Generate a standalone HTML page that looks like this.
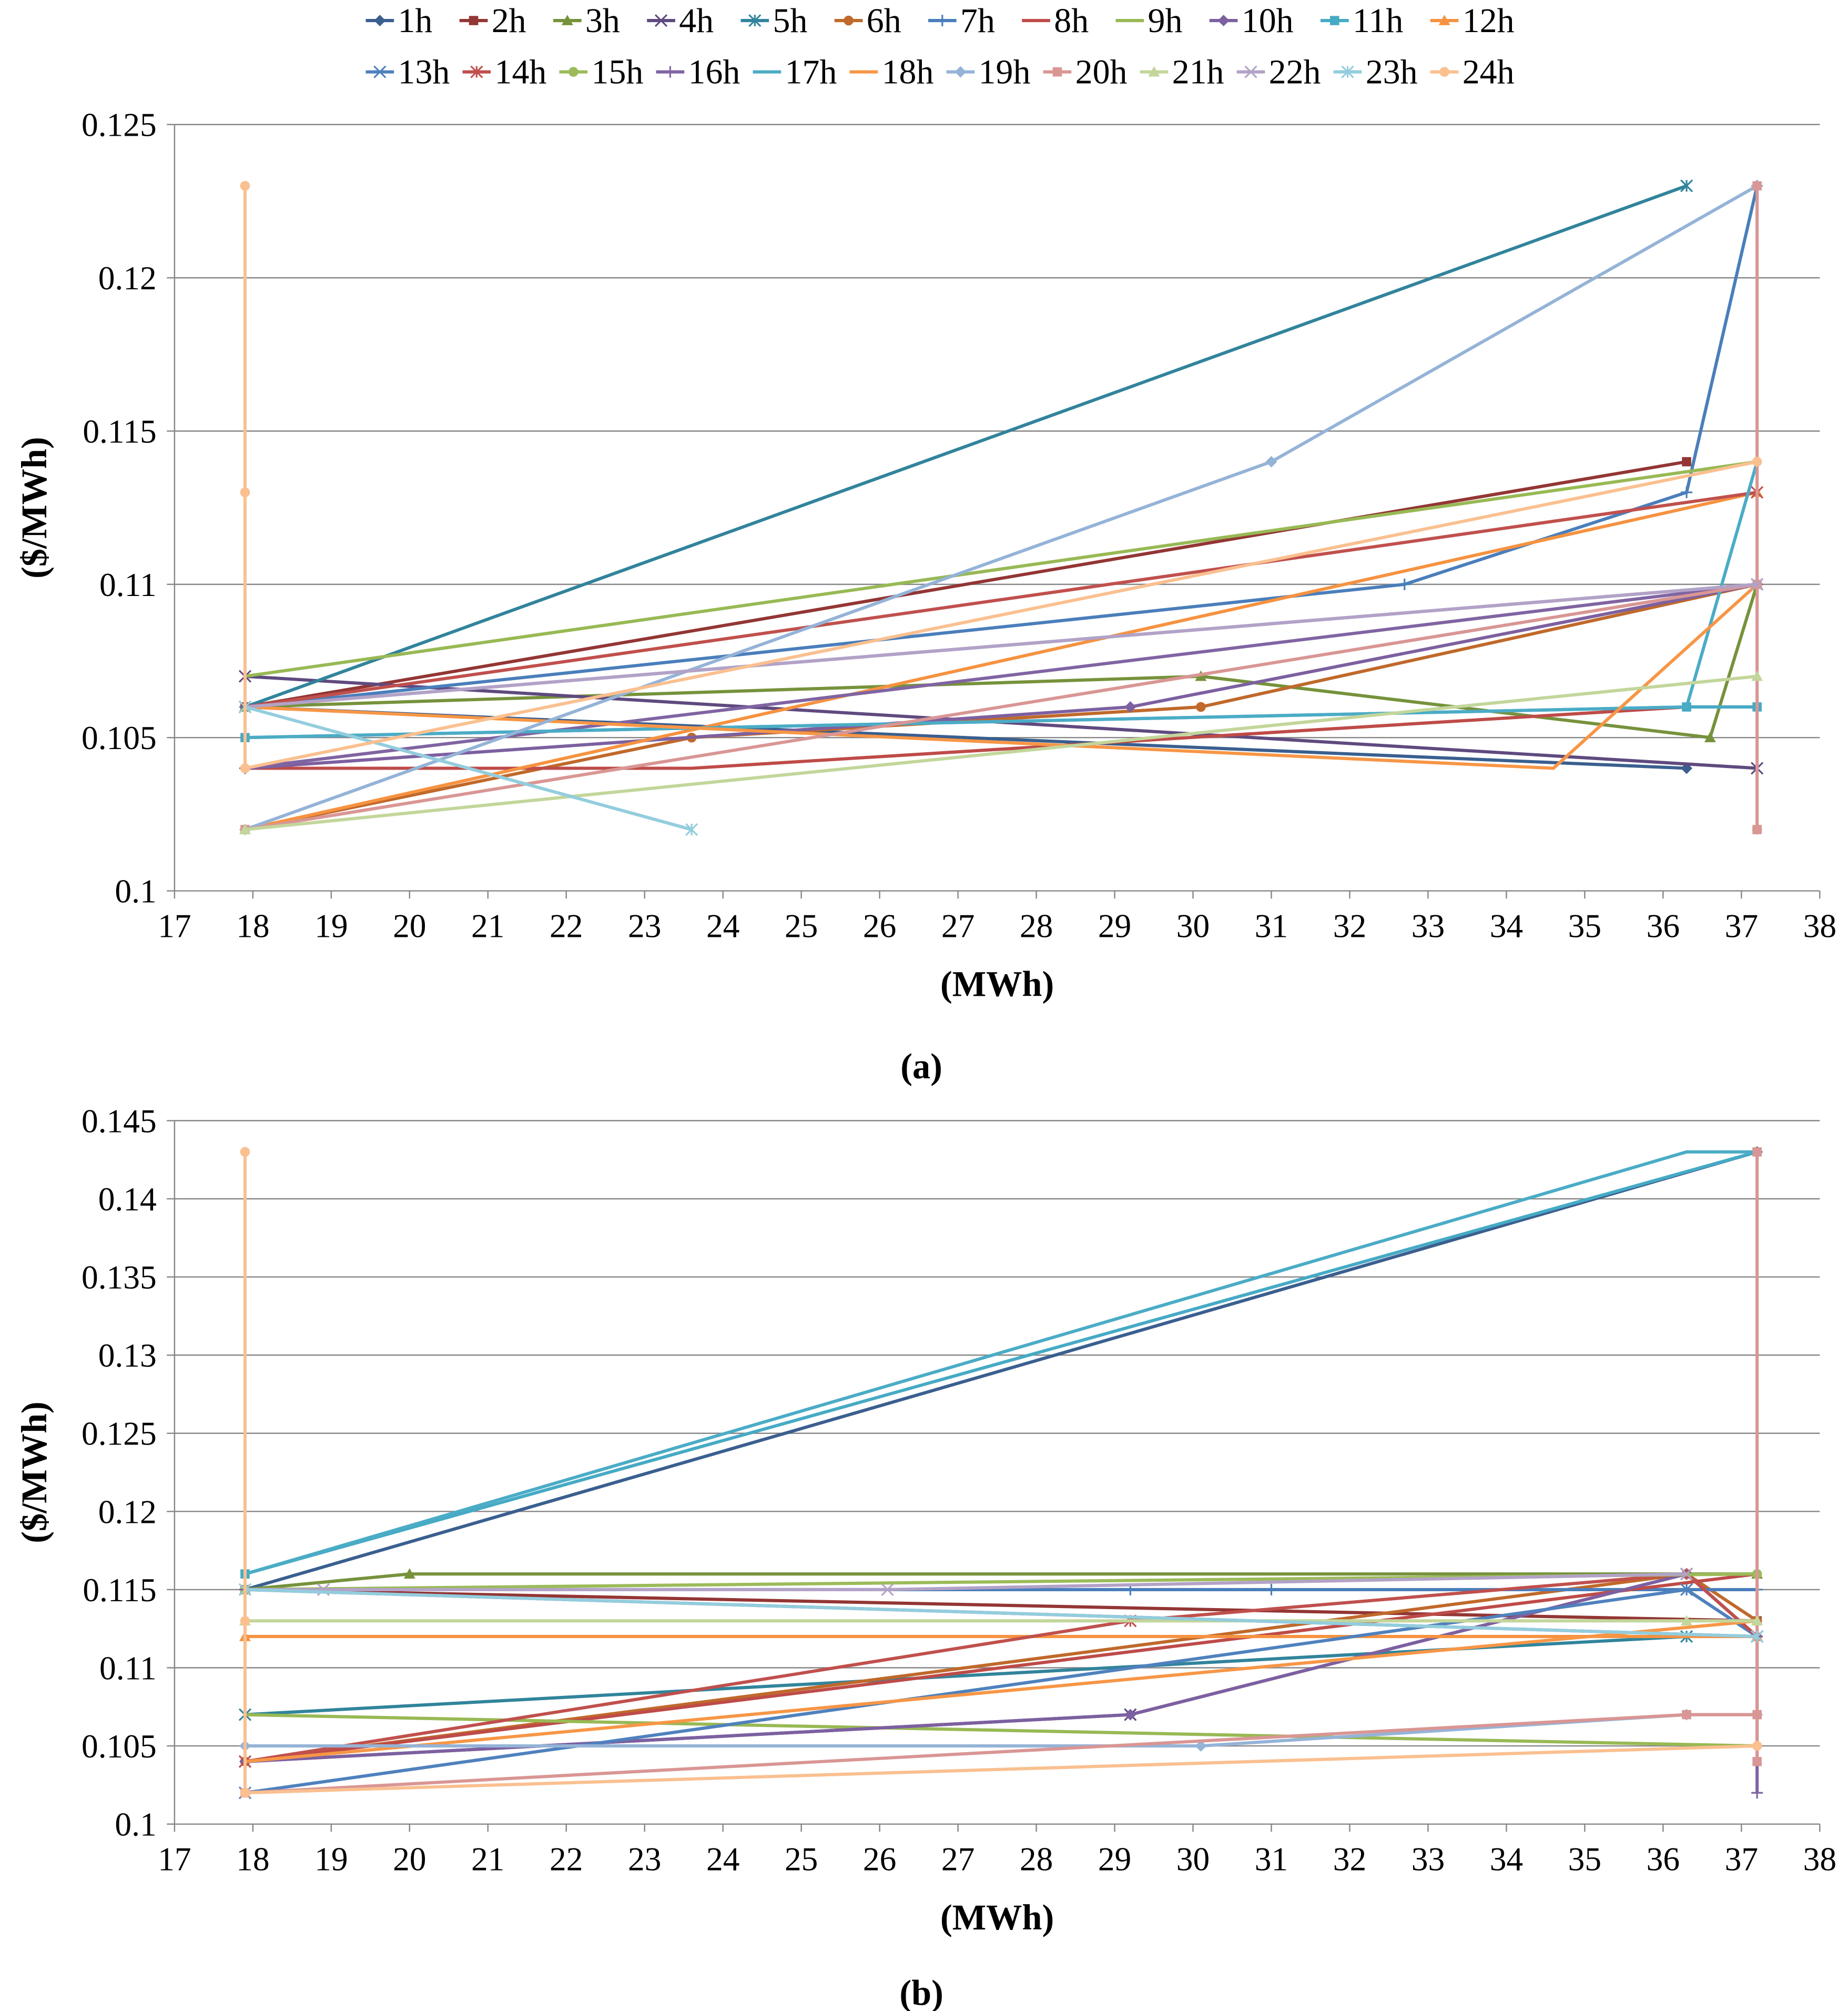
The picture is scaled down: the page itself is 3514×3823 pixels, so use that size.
<!DOCTYPE html>
<html><head><meta charset="utf-8"><style>
html,body{margin:0;padding:0;background:#fff;}
svg{display:block;}
svg text{font-family:"Liberation Serif","DejaVu Serif",serif !important;}
</style></head><body>
<svg id="chart" width="3514" height="3823" viewBox="0 0 1440 1566.6" xmlns="http://www.w3.org/2000/svg" font-family="Liberation Serif, serif" style="font-family:'Liberation Serif',serif">
<g id="legend"></g>
<g id="pa"></g>
<g id="pb"></g>
<text x="718" y="840" text-anchor="middle" font-size="28" font-weight="bold">(a)</text>
<text x="718" y="1562" text-anchor="middle" font-size="28" font-weight="bold">(b)</text>
</svg>
<script>
const seriesNames = ["1h","2h","3h","4h","5h","6h","7h","8h","9h","10h","11h","12h","13h","14h","15h","16h","17h","18h","19h","20h","21h","22h","23h","24h"];
const seriesColors = ["#3A5F8F","#933634","#76923C","#5F4A7F","#31849B","#C0692B","#4A7EBB","#BE4B48","#98B954","#7D60A0","#46AAC5","#F69240","#4F81BD","#C0504D","#9BBB59","#8064A2","#4BACC6","#F79646","#95B3D7","#D99694","#C3D69B","#B3A2C7","#93CDDD","#FAC090"];
const seriesMarkers = ["diamond","square","triangle","x","star","circle","plus","none","none","diamond","square","triangle","x","star","circle","plus","none","none","diamond","square","triangle","x","star","circle"];
const xTicks = [17,18,19,20,21,22,23,24,25,26,27,28,29,30,31,32,33,34,35,36,37,38];
const yTicksA = [0.1,0.105,0.11,0.115,0.12,0.125];
const yTicksB = [0.1,0.105,0.11,0.115,0.12,0.125,0.13,0.135,0.14,0.145];
const aX = [
[17.9,36.3],[17.9,36.3],[17.9,30.1,36.6,37.2],[17.9,37.2],[17.9,36.3],[17.9,23.6,30.1,37.2],
[17.9,32.7,36.3,37.2],[17.9,23.6,36.3,37.2],[17.9,37.2],[17.9,29.2,37.2],[17.9,36.3,37.2],[17.9,37.2],
[17.9,37.2],[17.9,37.2],[37.2],[17.9,37.2],[17.9,36.3,37.2],[17.9,34.6,37.2],
[17.9,31,37.2],[17.9,37.2,37.2,37.2],[17.9,37.2],[17.9,37.2],[17.9,23.6],[17.9,17.9,17.9,37.2]];
const aY = [
[0.106,0.104],[0.106,0.114],[0.106,0.107,0.105,0.110],[0.107,0.104],[0.106,0.123],[0.102,0.105,0.106,0.110],
[0.106,0.110,0.113,0.123],[0.104,0.104,0.106,0.106],[0.107,0.114],[0.104,0.106,0.110],[0.105,0.106,0.106],[0.102,0.113],
[0.106,0.110],[0.106,0.113],[0.102],[0.104,0.110],[0.105,0.106,0.114],[0.106,0.104,0.110],
[0.102,0.114,0.123],[0.102,0.110,0.102,0.123],[0.102,0.107],[0.106,0.110],[0.106,0.102],[0.123,0.113,0.104,0.114]];
const bX = [
[17.9,37.2],[17.9,37.2],[17.9,20,37.2],[17.9,29.2,36.3,37.2],[17.9,36.3,37.2],[17.9,36.3,37.2],
[17.9,29.2,31,36.3,37.2],[17.9,37.2],[17.9,37.2],[17.9,29.2,36.3,37.2],[17.9,37.2],[17.9,37.2],
[17.9,36.3,37.2],[17.9,29.2,36.3,37.2],[17.9,37.2],[17.9,37.2,37.2],[17.9,36.3,37.2],[17.9,37.2],
[17.9,30.1,36.3,37.2],[17.9,36.3,37.2,37.2,37.2],[17.9,36.3,37.2],[17.9,18.9,26.1,36.3],[17.9,37.2],[17.9,17.9,17.9,37.2]];
const bY = [
[0.115,0.143],[0.115,0.113],[0.115,0.116,0.116],[0.104,0.107,0.116,0.112],[0.107,0.112],[0.104,0.116,0.113],
[0.115,0.115,0.115,0.115,0.115],[0.104,0.116],[0.107,0.105],[0.104,0.107,0.116,0.112],[0.116,0.143],[0.112,0.112],
[0.102,0.115,0.112],[0.104,0.113,0.116,0.112],[0.115,0.116],[0.115,0.112,0.102],[0.116,0.143,0.143],[0.104,0.113],
[0.105,0.105,0.107,0.107],[0.102,0.107,0.107,0.104,0.143],[0.113,0.113,0.113],[0.115,0.115,0.115,0.116],[0.115,0.112],[0.143,0.113,0.102,0.105]];

const NS="http://www.w3.org/2000/svg";
const FF="Liberation Serif, serif";
function mk(parent,tag,attrs){const e=document.createElementNS(NS,tag);for(const k in attrs)e.setAttribute(k,attrs[k]);parent.appendChild(e);return e;}
function marker(g,type,cx,cy,col,s){
  let e;
  if(type==="diamond"){e=mk(g,"polygon",{points:`${cx},${cy-s} ${cx+s},${cy} ${cx},${cy+s} ${cx-s},${cy}`,fill:col});}
  else if(type==="square"){e=mk(g,"rect",{x:cx-s*0.8,y:cy-s*0.8,width:s*1.6,height:s*1.6,fill:col});}
  else if(type==="triangle"){e=mk(g,"polygon",{points:`${cx},${cy-s} ${cx+s},${cy+s*0.8} ${cx-s},${cy+s*0.8}`,fill:col});}
  else if(type==="circle"){e=mk(g,"circle",{cx:cx,cy:cy,r:s*0.85,fill:col});}
  else if(type==="x"){e=mk(g,"path",{d:`M${cx-s} ${cy-s}L${cx+s} ${cy+s}M${cx+s} ${cy-s}L${cx-s} ${cy+s}`,stroke:col,"stroke-width":1.3,fill:"none"});}
  else if(type==="star"){e=mk(g,"path",{d:`M${cx-s} ${cy-s}L${cx+s} ${cy+s}M${cx+s} ${cy-s}L${cx-s} ${cy+s}M${cx} ${cy-s}L${cx} ${cy+s}`,stroke:col,"stroke-width":1.3,fill:"none"});}
  else if(type==="plus"){e=mk(g,"path",{d:`M${cx-s} ${cy}L${cx+s} ${cy}M${cx} ${cy-s}L${cx} ${cy+s}`,stroke:col,"stroke-width":1.3,fill:"none"});}
  return e;
}
function drawChart(gid,top,bottom,yTicks,xs,ys,prefix){
  const g=document.getElementById(gid);
  const L=136,R=1418,xmin=17,xmax=38;
  const ymin=yTicks[0],ymax=yTicks[yTicks.length-1];
  const sx=v=>L+(v-xmin)/(xmax-xmin)*(R-L);
  const sy=v=>bottom-(v-ymin)/(ymax-ymin)*(bottom-top);
  yTicks.forEach((t,i)=>{
    const y=sy(t);
    const gl=mk(g,"line",{x1:L,x2:R,y1:y,y2:y,stroke:"#878787","stroke-width":1});
    
    
    mk(g,"line",{x1:L-6,x2:L,y1:y,y2:y,stroke:"#878787","stroke-width":1});
    const tx=mk(g,"text",{x:L-14,y:y+9,"text-anchor":"end","font-size":26,"font-family":FF});
    tx.textContent=String(t);
    
    
  });
  mk(g,"line",{x1:L,x2:L,y1:top,y2:bottom,stroke:"#878787","stroke-width":1});
  xTicks.forEach(t=>{
    const x=sx(t);
    mk(g,"line",{x1:x,x2:x,y1:bottom,y2:bottom+6,stroke:"#878787","stroke-width":1});
    const tx=mk(g,"text",{x:x,y:bottom+36,"text-anchor":"middle","font-size":26,"font-family":FF});
    tx.textContent=String(t);
    
    
  });
  const xt=mk(g,"text",{x:777,y:bottom+82,"text-anchor":"middle","font-size":28,"font-weight":"bold","font-family":FF});
  xt.textContent="(MWh)";
  
  
  const cy=(top+bottom)/2;
  const yt=mk(g,"text",{x:0,y:0,"text-anchor":"middle","font-size":28,"font-weight":"bold","font-family":FF,transform:`translate(36,${cy}) rotate(-90)`});
  yt.textContent="($/MWh)";
  
  
  xs.forEach((xa,i)=>{
    const sg=mk(g,"g",{});
    
    
    const pts=xa.map((x,j)=>sx(x)+","+sy(ys[i][j])).join(" ");
    mk(sg,"polyline",{points:pts,fill:"none",stroke:seriesColors[i],"stroke-width":2.5});
    xa.forEach((x,j)=>{
      const m=marker(sg,seriesMarkers[i],sx(x),sy(ys[i][j]),seriesColors[i],4.5);
      if(m){
      }
    });
  });
}
drawChart("pa",97,694,yTicksA,aX,aY,"a");
drawChart("pb",873,1421,yTicksB,bX,bY,"b");
(function(){
  const g=document.getElementById("legend");
  const rows=[[0,12,16],[12,24,56]];
  rows.forEach(([s,e,y])=>{
    const items=[];let total=0;
    for(let i=s;i<e;i++){
      const it=mk(g,"g",{});
      
      
      const t=mk(it,"text",{x:0,y:y+9,"font-size":27,"font-family":FF});
      t.textContent=seriesNames[i];
      const w=t.getComputedTextLength();
      items.push({it,t,w,i});total+=22+3+w;
    }
    const span=1180-285;
    const gap=(span-total)/(items.length-1);
    let x=285;
    items.forEach(o=>{
      mk(o.it,"line",{x1:x,x2:x+22,y1:y,y2:y,stroke:seriesColors[o.i],"stroke-width":2.5});
      marker(o.it,seriesMarkers[o.i],x+11,y,seriesColors[o.i],4.5);
      o.t.setAttribute("x",x+25);
      x+=22+3+o.w+gap;
    });
  });
})();
</script>
</body></html>
